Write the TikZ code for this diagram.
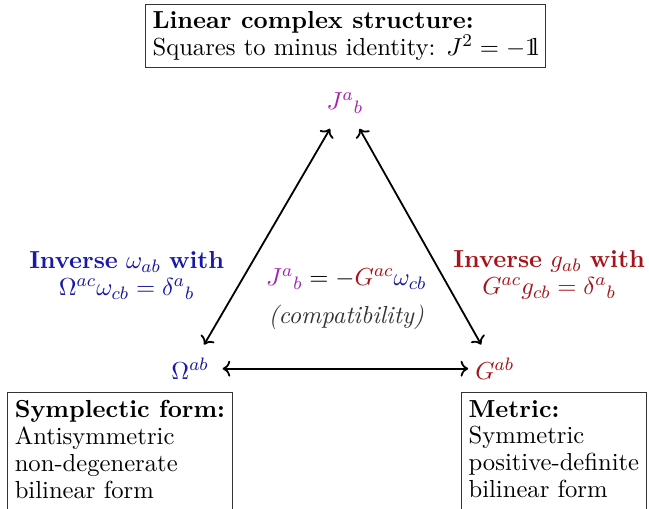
\documentclass[tikz,border=0pt]{standalone}
\usepackage{tikz}
\usetikzlibrary{arrows.meta, positioning}
\usepackage{amsmath, amssymb}
\usepackage{xcolor}

\definecolor{jcol}{RGB}{165,35,175}
\definecolor{ocol}{RGB}{25,25,165}
\definecolor{gcol}{RGB}{165,20,25}
\newcommand{\idone}{\mathrm{1\hspace{-2.5pt}l}}

\begin{document}
\fontsize{10.95}{12}\selectfont
\begin{tikzpicture}[
  >=To,
  %--- boxes with a title line ---
  infobox/.style={
    draw=black!80, align=left, inner sep=3.2pt, line width=0.5pt
  },
  %--- the three tensors ---
  tensor/.style={inner sep=4pt},
  %--- double arrows between them ---
  link/.style={
    <->, line width=0.8pt, shorten <=2pt, shorten >=2pt
  },
  sidelbl/.style={align=center}
]

\path[use as bounding box, clip] (0,0) rectangle (10.14,7.94);

%------------------------------------------------------------------
%  Top box
%------------------------------------------------------------------
\node[infobox] (lcs) at (5.40, 7.38)
  {\textbf{Linear complex structure:}\\
   Squares to minus identity: $J^2 = -\idone$};

%------------------------------------------------------------------
%  Triangle corners
%------------------------------------------------------------------
\node[tensor, text=jcol] (J)  at (5.39, 6.33) {$J^a{}_b$};
\node[tensor, text=ocol] (Om) at (2.97, 2.18) {$\Omega^{ab}$};
\node[tensor, text=gcol] (G)  at (7.73, 2.18) {$G^{ab}$};

\draw[link, shorten <=3pt] (J)  -- (Om);
\draw[link, shorten <=3pt] (J)  -- (G);
\draw[link, shorten >=-1pt] (Om) -- (G);

%------------------------------------------------------------------
%  Side and centre labels
%------------------------------------------------------------------
\node[sidelbl, text=ocol] (invom) at (1.98, 3.64)
  {\textbf{Inverse} $\omega_{ab}$ \textbf{with}\\
   $\Omega^{ac}\omega_{cb} = \delta^a{}_b$};
\node[sidelbl, text=gcol] (invg) at (8.58, 3.64)
  {\textbf{Inverse} $g_{ab}$ \textbf{with}\\
   $G^{ac}g_{cb} = \delta^a{}_b$};

\node[align=center] (compat) at (5.41, 3.27)
  {$\textcolor{jcol}{J^a{}_b} = -\textcolor{gcol}{G^{ac}}\textcolor{ocol}{\omega_{cb}}$\\[5pt]
   \textcolor{black!80}{\textit{(compatibility)}}};

%------------------------------------------------------------------
%  Bottom boxes (run past the lower edge)
%------------------------------------------------------------------
\node[infobox, anchor=north west] (symp) at (0.11, 1.81)
  {\textbf{Symplectic form:}\\
   Antisymmetric\\
   non-degenerate\\
   bilinear form\\[-4pt]~};
\node[infobox, anchor=north west] (metric) at (7.20, 1.81)
  {\textbf{Metric:}\\
   Symmetric\\
   positive-definite\\
   bilinear form\\[-4pt]~};

\end{tikzpicture}
\end{document}
